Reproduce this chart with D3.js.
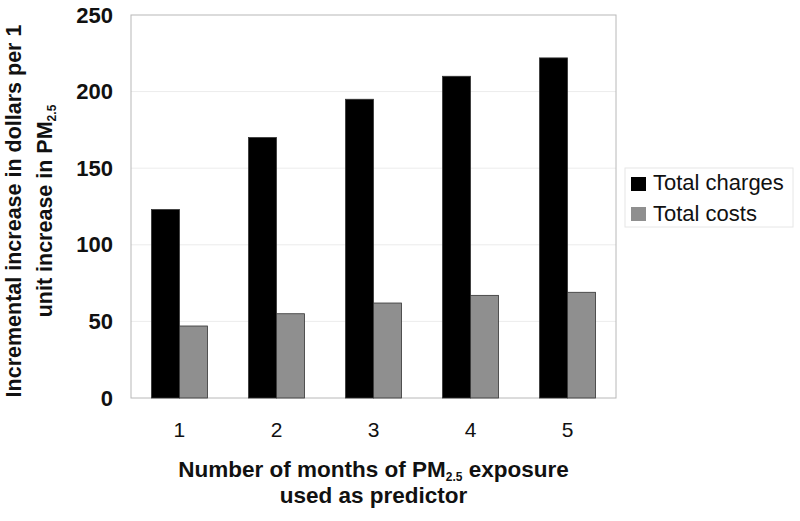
<html>
<head>
<script src="https://d3js.org/d3.v7.min.js"></script>
<style>
  body { margin: 0; background: white; }
  text { font-family: "Liberation Sans", Arial, sans-serif; fill: #111; }
</style>
</head>
<body>
<svg id="chart" width="800" height="521"></svg>
<script>
// data
const months = ["1", "2", "3", "4", "5"];
const totalCharges = [123, 170, 195, 210, 222];
const totalCosts = [47, 55, 62, 67, 69];
const yTicks = [0, 50, 100, 150, 200, 250];
const seriesNames = ["Total charges", "Total costs"];
const seriesColors = ["#000000", "#8f8f8f"];

const svg = d3.select("#chart");
const pLeft = 131, pRight = 616, pTop = 15, pBottom = 398;

const x = d3.scaleBand().domain(months).range([pLeft, pRight])
    .paddingInner(0.423).paddingOuter(0.211);
const xs = d3.scaleBand().domain(seriesNames).range([0, x.bandwidth()]);
const y = d3.scaleLinear().domain([0, 250]).range([pBottom, pTop]);

// gridlines
svg.append("g").selectAll("line")
  .data(yTicks.filter(d => d > 0 && d < 250))
  .enter().append("line")
  .attr("x1", pLeft).attr("x2", pRight)
  .attr("y1", d => y(d)).attr("y2", d => y(d))
  .attr("stroke", "#ececec").attr("stroke-width", 1);

// plot frame
svg.append("rect")
  .attr("x", pLeft).attr("y", pTop)
  .attr("width", pRight - pLeft).attr("height", pBottom - pTop)
  .attr("fill", "none").attr("stroke", "#b8b8b8").attr("stroke-width", 1);

// bars
const rows = months.map((m, i) => ({m: m, vals: [totalCharges[i], totalCosts[i]]}));
const grp = svg.append("g").selectAll("g")
  .data(rows).enter().append("g")
  .attr("transform", d => "translate(" + x(d.m) + ",0)");
grp.selectAll("rect")
  .data(d => d.vals.map((v, j) => ({v: v, j: j})))
  .enter().append("rect")
  .attr("x", d => xs(seriesNames[d.j]))
  .attr("y", d => y(d.v))
  .attr("width", xs.bandwidth())
  .attr("height", d => pBottom - y(d.v))
  .attr("fill", d => seriesColors[d.j])
  .attr("stroke", "#333").attr("stroke-width", 0.8);

// y axis labels
const yAxis = svg.append("g")
  .attr("transform", "translate(" + pLeft + ",0)")
  .call(d3.axisLeft(y).tickValues(yTicks).tickSize(0).tickPadding(18));
yAxis.select(".domain").remove();
yAxis.selectAll("text")
  .style("font-family", "'Liberation Sans', Arial, sans-serif")
  .style("font-size", "22px").style("font-weight", "bold").attr("fill", "#111");

// x axis labels
const xAxis = svg.append("g")
  .attr("transform", "translate(0," + pBottom + ")")
  .call(d3.axisBottom(x).tickSize(0).tickPadding(24));
xAxis.select(".domain").remove();
xAxis.selectAll("text")
  .style("font-family", "'Liberation Sans', Arial, sans-serif")
  .style("font-size", "21px").attr("fill", "#111");

// x title
const xt = svg.append("text")
  .attr("x", (pLeft + pRight) / 2).attr("y", 477)
  .attr("text-anchor", "middle")
  .style("font-size", "22.5px").style("font-weight", "bold");
xt.append("tspan").text("Number of months of PM");
xt.append("tspan").text("2.5").style("font-size", "12px").attr("dy", 4);
xt.append("tspan").text(" exposure").attr("dy", -4);
svg.append("text")
  .attr("x", (pLeft + pRight) / 2).attr("y", 503)
  .attr("text-anchor", "middle")
  .style("font-size", "22.5px").style("font-weight", "bold")
  .text("used as predictor");

// y title
const yg = svg.append("g").attr("transform", "translate(0,211) rotate(-90)");
yg.append("text").attr("x", 0).attr("y", 21)
  .attr("text-anchor", "middle")
  .style("font-size", "21.5px").style("font-weight", "bold")
  .text("Incremental increase in dollars per 1");
const yt2 = yg.append("text").attr("x", 0).attr("y", 52)
  .attr("text-anchor", "middle")
  .style("font-size", "21.5px").style("font-weight", "bold");
yt2.append("tspan").text("unit increase in PM");
yt2.append("tspan").text("2.5").style("font-size", "12px").attr("dy", 4);

// legend
const lg = svg.append("g");
lg.append("rect")
  .attr("x", 625).attr("y", 168).attr("width", 168).attr("height", 59)
  .attr("fill", "white").attr("stroke", "#e6e6e6");
seriesNames.forEach((name, i) => {
  lg.append("rect")
    .attr("x", 631).attr("y", 177 + i * 30).attr("width", 15).attr("height", 14)
    .attr("fill", seriesColors[i]);
  lg.append("text")
    .attr("x", 653).attr("y", 190 + i * 30.5)
    .style("font-size", "22px").attr("fill", "#222")
    .text(name);
});
</script>
</body>
</html>
